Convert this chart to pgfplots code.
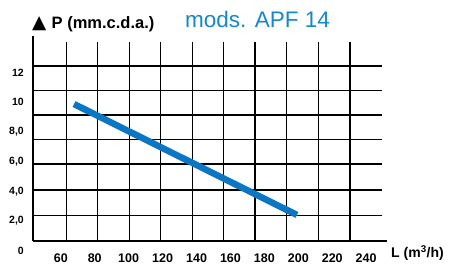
\documentclass[border=0pt]{standalone}
\usepackage{fontspec}
\setmainfont{Liberation Sans}
\newfontfamily\symfont{DejaVu Sans}
\usepackage{pgfplots}
\pgfplotsset{compat=1.18}
\definecolor{lineblue}{RGB}{10,118,196}
\definecolor{titleblue}{RGB}{20,136,206}
\begin{document}
\begin{tikzpicture}[x=1pt,y=1pt]
\useasboundingbox (0,0) rectangle (455,264);
% main axis: grid, axis lines, data
\begin{axis}[
  at={(33pt,23pt)}, anchor=south west,
  scale only axis, width=349pt, height=199pt,
  xmin=43.60, xmax=249.33, ymin=0.646, ymax=14.05,
  axis x line=bottom, axis y line=left,
  axis line style={-, line width=2.6pt, black},
  x axis line style={shorten >=-5pt},
  y axis line style={shorten >=-6pt},
  xtick={63.47,81.74,100.37,118.88,137.51,155.78,174.47,193.16,211.78,230.47},
  ytick={2.35,4.08,5.83,7.49,9.13,10.77,12.43},
  xticklabels={}, yticklabels={},
  major tick length=0pt,
  grid=major, major grid style={black, line width=1.1pt},
  clip=false,
]
\addplot[lineblue, line width=6.5pt] coordinates {(67.8,9.87) (199.2,2.40)};
\end{axis}
% label axis: same mapping, only tick labels
\begin{axis}[
  at={(33pt,6pt)}, anchor=south west,
  scale only axis, width=349pt, height=216pt,
  xmin=43.60, xmax=249.33, ymin=-0.498, ymax=14.05,
  axis line style={draw=none},
  major tick length=0pt,
  xtick={60,80,100,120,140,160,180,200,220,240},
  xticklabels={60,80,100,120,140,160,180,200,220,240},
  ytick={0,2,4,6,8,10,12},
  yticklabels={0,{2,0},{4,0},{6,0},{8,0},10,12},
  xticklabel style={font=\bfseries\fontsize{12.5}{12.5}\selectfont, anchor=center, inner sep=0pt},
  yticklabel style={font=\bfseries\fontsize{10.5}{10.5}\selectfont, anchor=east, inner sep=0pt, xshift=-9pt},
]
\end{axis}
\node[anchor=base west, inner sep=0pt, text=titleblue, font=\fontsize{22.5}{22.5}\selectfont] at (185,236) {mods. APF 14};
\node[anchor=base west, inner sep=0pt, font=\symfont\fontsize{18.5}{18.5}\selectfont] at (32,235.7) {▲};
\node[anchor=base west, inner sep=0pt, font=\bfseries\fontsize{16.5}{16.5}\selectfont] at (51.5,235.7) {P (mm.c.d.a.)};
\node[anchor=base west, inner sep=0pt, font=\bfseries\fontsize{14}{14}\selectfont] at (391,6.5) {L (m\textsuperscript{3}/h)};
\end{tikzpicture}
\end{document}
